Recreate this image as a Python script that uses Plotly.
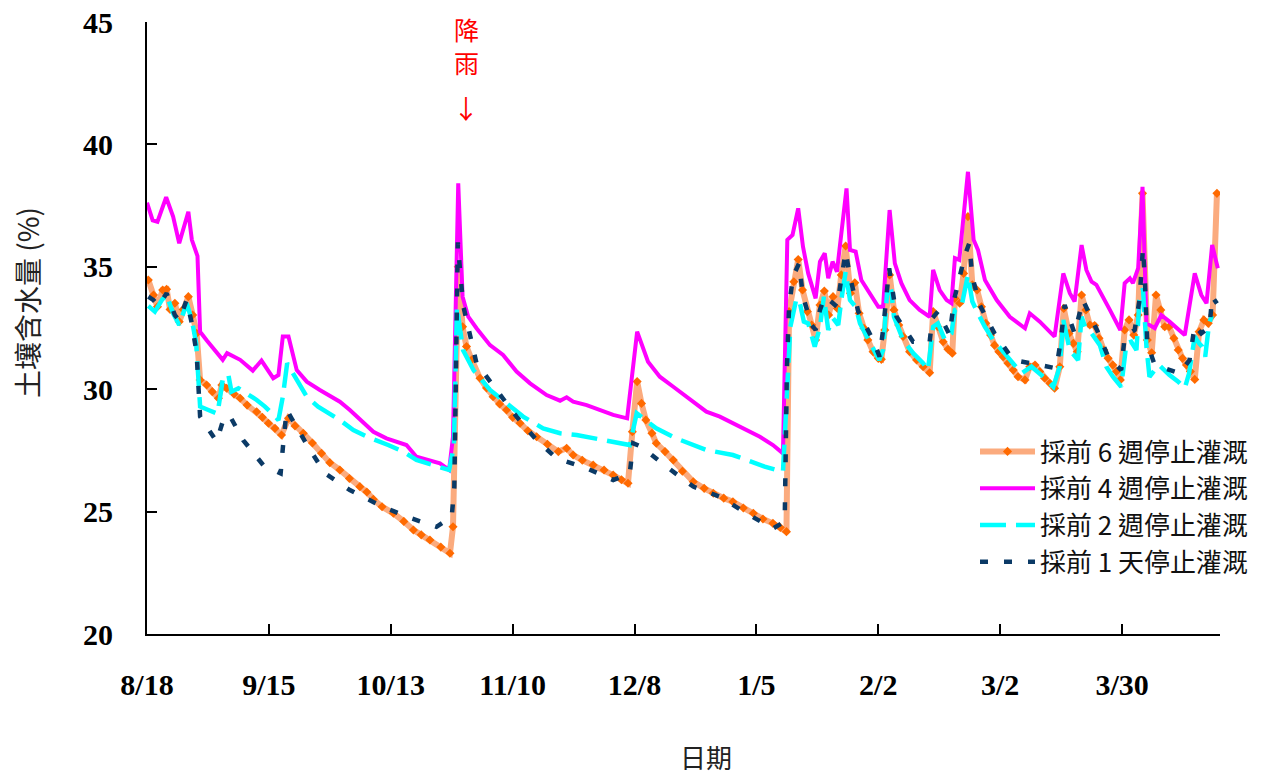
import plotly.graph_objects as go

# x = days since 8/18
tick_days = [0, 28, 56, 84, 112, 140, 168, 196, 224]
tick_labels = ["8/18", "9/15", "10/13", "11/10", "12/8", "1/5", "2/2", "3/2", "3/30"]

names = ["採前 6 週停止灌溉", "採前 4 週停止灌溉", "採前 2 週停止灌溉", "採前 1 天停止灌溉"]

days_6w = [0.3, 1.5, 2.4, 3.6, 4.5, 5.3, 6.4, 7.4, 8.3, 9.5, 10.5, 11.4, 12.2, 13.7, 15, 16.4, 17.2, 18.3, 20, 21.4,
           23, 25.2, 26.5, 27.9, 29.4, 30.9, 32.5, 34, 35.9, 38, 40.1, 42, 44.3, 46.5, 48.9, 50.5, 52, 54, 56.6, 59,
           61.2, 63, 65, 67.5, 69.6, 70.3, 71.5, 72.5, 73.4, 74.6, 76.5, 78, 79.5, 81, 82.6, 84, 85.7, 87.5, 89.5, 92,
           94.5, 96.4, 97.9, 100, 102.5, 105, 107.1, 109, 110.5, 111.5, 112.6, 113.6, 114.6, 116, 117, 119, 120.9, 123,
           125.5, 128, 130.1, 132.5, 134.6, 137, 139.3, 141.5, 143.8, 145.5, 146.9, 147.5, 148.6, 149.6,
           150.6, 151.7, 152.7, 153.6, 154.6, 155.6, 156.6, 157.6, 158.6, 159.5, 160.5, 161.6, 162.6, 163.6, 164.7,
           165.6, 166.8, 168, 168.7, 169.5, 170.6, 171.6, 172.7, 173.7, 175.2, 176.8, 178.3, 179.8, 180.6, 181.7,
           182.9, 184, 185, 185.6, 186.7, 187.6, 188.6, 189.6, 190.7, 191.7, 192.7, 193.8, 194.7, 195.7, 196.7, 197.8,
           199, 200.1, 201.7, 202.8, 204, 205.1, 206.2, 207.4, 208.5, 209.7, 210.6, 211.8, 212.8, 213.7, 214.7, 215.7,
           216.6, 217.7, 218.7, 219.8, 220.8, 221.9, 222.7, 223.6, 224.6, 225.6, 226.7, 227.7, 228.7, 229.8, 230.8,
           231.8, 232.9, 233.8, 234.8, 235.9, 236.9, 237.9, 238.8, 239.7, 240.7, 241.7, 242.8, 243.8, 244.8, 245.8]
vals_6w = [34.46, 33.85, 33.37, 34.05, 34.08, 33.26, 33.51, 32.76, 33.26, 33.78, 33.03, 32.28, 30.38, 30.17, 29.9,
           29.63, 30.17, 30.04, 29.8, 29.63, 29.35, 29.08, 28.85, 28.61, 28.4, 28.13, 28.81, 28.5, 28.2, 27.8, 27.38,
           27.0, 26.7, 26.35, 26.02, 25.8, 25.5, 25.2, 24.93, 24.6, 24.25, 24.05, 23.84, 23.55, 23.3, 24.38, 35.0,
           32.55, 31.74, 31.2, 30.45, 30.05, 29.69, 29.4, 29.15, 28.85, 28.61, 28.3, 28.06, 27.75, 27.45, 27.59, 27.31,
           27.1, 26.9, 26.7, 26.49, 26.3, 26.16, 28.26, 30.31, 29.42, 28.74, 28.2, 27.79, 27.45, 27.11, 26.65, 26.22,
           25.95, 25.75, 25.55, 25.4, 25.15, 24.93, 24.7, 24.52, 24.35, 24.18, 33.17, 34.39, 35.3,
           34.05, 33.17, 32.62, 32.01, 33.44, 34.01, 33.03, 33.78, 33.3, 34.67, 35.85, 33.92, 34.35, 33.1, 32.49,
           32.01, 31.53, 31.26, 31.22, 32.42, 34.67, 33.24, 32.62, 32.15, 31.53, 31.19, 30.92, 30.67, 33.17, 32.55,
           31.94, 31.63, 31.47, 33.71, 33.51, 34.73, 37.05, 34.26, 34.05, 33.37, 32.69, 32.21, 31.8, 31.53, 31.33,
           31.06, 30.78, 30.51, 30.38, 30.92, 30.99, 30.72, 30.45, 30.24, 30.04, 30.92, 33.3, 32.28, 31.87, 31.53,
           33.85, 33.24, 32.62, 32.6, 32.08, 31.6, 31.26, 30.99, 30.72, 30.38, 32.42, 32.83, 32.21, 33.03, 38.0,
           32.01, 31.49, 33.85, 33.24, 32.55, 32.55, 32.08, 31.6, 31.26, 30.99, 30.72, 30.4, 32.35, 32.83, 32.69,
           33.03, 38.0]

days_4w = [0, 1.3, 2.4, 4.4, 6, 7.4, 9.5, 10.3, 11.6, 12.2, 13.7, 17.4, 18.4, 19.8, 21.4, 24.3, 26.3, 29, 30.2, 31.2,
           32.5, 34.4, 36.7, 39.7, 44.3, 46.6, 52, 55, 58.1, 59.6, 61.9, 65, 67.3, 69.4, 70.3, 71.5, 72.5, 73.8, 75.7,
           78.8, 81.8, 84.9, 88, 91.8, 94.9, 96.4, 97.9, 101, 104, 107.1, 110.3, 112.6, 115.1, 117.8, 120.9, 125.5,
           128.5, 131.6, 136.2, 140.8, 143.8, 146.1, 147.1, 148.3, 149.6, 150.7, 151.9, 153.6, 154.6, 155.7, 156.5,
           157.5, 158.5, 160.7, 161.5, 162.8, 164.1, 166, 168, 169.1, 170.6, 171.8, 173.3, 175.2, 177.5, 179.8, 180.6,
           182.1, 183.7, 184.8, 185.6, 186.6, 188.6, 189.9, 190.9, 192.5, 195.2, 198.2, 201.7, 202.8, 205.1, 208.5,
           210.5, 212, 213.1, 214.7, 215.8, 217, 218.1, 221.2, 223.6, 224.6, 225.8, 226.5, 227.7, 228.7, 229.6, 231.5,
           233, 234.9, 238.4, 240.7, 242.2, 243.4, 244.7, 246]
vals_4w = [37.62, 36.9, 36.84, 37.84, 37.05, 35.96, 37.25, 36.1, 35.44, 32.35, 32.0, 31.2, 31.47, 31.36, 31.2, 30.76,
           31.17, 30.45, 30.58, 32.15, 32.15, 30.78, 30.31, 29.97, 29.49, 29.15, 28.26, 27.99, 27.79, 27.72, 27.24,
           27.1, 26.97, 26.7, 28.06, 38.41, 33.78, 32.96, 32.49, 31.8, 31.4, 30.72, 30.24, 29.76, 29.53, 29.67, 29.49,
           29.35, 29.15, 28.95, 28.81, 32.35, 31.12, 30.51, 30.1, 29.49, 29.08, 28.88, 28.47, 28.06, 27.72, 27.38,
           36.1, 36.3, 37.39, 35.82, 34.73, 33.71, 35.21, 35.55, 34.53, 35.21, 34.8, 38.2, 35.69, 35.62, 34.46, 33.92,
           33.37, 33.37, 37.32, 35.14, 34.33, 33.64, 33.24, 32.96, 34.87, 34.05, 33.64, 33.51, 35.35, 35.28, 38.88,
           36.1, 35.69, 34.46, 33.64, 32.96, 32.49, 33.1, 32.76, 32.15, 34.73, 33.92, 33.58, 35.89, 34.87, 34.39,
           34.26, 33.24, 32.42, 34.33, 34.53, 34.33, 34.94, 38.27, 32.7, 32.49, 33.03, 32.76, 32.21, 34.73, 33.85,
           33.51, 35.89, 34.94]

days_2w = [0.3, 1.8, 3.4, 4.5, 6, 7.4, 9.1, 10.3, 11.3, 12.2, 14.1, 16.2, 17.5, 18.7, 19.4, 21, 25.2, 27.1, 30.2, 31.2,
           32.2, 34.4, 36.7, 39.3, 44.3, 47.4, 50.5, 55.4, 58.9, 61.9, 65, 67.5, 69.4, 70.5, 71.2, 72.6, 75, 78.8, 82.6,
           86.4, 91, 94.9, 98.7, 103.3, 107.9, 110.9, 112.5, 114, 117, 121.6, 128.5, 134.6, 141.9, 146.1, 147.8, 149.2,
           150, 150.9, 151.9, 153.4, 154.6, 155.5, 156.5, 157.6, 158.8, 159.5, 160.5, 161.5, 162.8, 163.8, 165.3,
           166.8, 168.2, 169.1, 170, 171, 171.6, 173.7, 176, 178.3, 179.4, 180.6, 181.7, 183.3, 184.8, 185.6, 187.1,
           188.6, 189.6, 190.9, 192.5, 194.4, 196.7, 199, 200.9, 202, 203.2, 205.9, 208.2, 209.7, 210.5, 212, 213.9,
           214.7, 215.5, 217, 218.9, 220.4, 221.9, 223.8, 225, 226.1, 227.3, 228, 228.8, 229.6, 230.3, 232.5, 234.9,
           236.9, 238.4, 239.4, 240.7, 241.7, 242.4, 243.1, 244, 244.6]
vals_2w = [33.4, 33.17, 33.64, 33.85, 33.1, 32.62, 33.51, 32.83, 31.88, 29.29, 29.15, 29.0, 30.51, 30.58, 29.9, 30.04,
           29.56, 29.29, 28.74, 29.69, 31.06, 30.38, 29.69, 29.29, 28.74, 28.33, 28.06, 27.72, 27.45, 27.11, 26.95,
           26.84, 26.7, 27.65, 33.37, 31.6, 30.78, 29.97, 29.42, 28.88, 28.4, 28.2, 28.13, 27.99, 27.85, 27.72, 29.02,
           28.81, 28.4, 27.99, 27.52, 27.31, 26.84, 26.63, 32.55, 33.71, 33.51, 32.76, 32.69, 31.74, 32.55, 33.78,
           32.42, 32.9, 32.62, 33.64, 34.8, 33.64, 33.37, 32.69, 32.15, 31.6, 31.19, 31.6, 33.92, 33.98, 32.96, 32.01,
           31.47, 31.06, 30.78, 32.55, 32.69, 32.01, 32.28, 33.24, 33.37, 34.67, 33.58, 33.1, 32.55, 32.01, 31.53,
           31.06, 30.65, 30.78, 30.92, 30.51, 30.1, 30.92, 32.83, 31.6, 31.19, 32.96, 32.55, 32.28, 31.8, 30.92, 30.51,
           30.1, 31.87, 31.94, 31.6, 33.64, 34.12, 31.74, 30.51, 30.99, 30.58, 30.31, 30.04, 30.65, 32.15, 31.87,
           31.74, 31.33, 32.69, 33.0]

days_1d = [0.3, 1.5, 2.6, 4.5, 6.4, 7.4, 9.1, 10.3, 11.4, 12.2, 16, 17.5, 18.9, 22.1, 26.7, 30.7, 31.3, 32.1, 33.2, 37,
           40.9, 46.6, 53, 59.6, 66.5, 70, 70.6, 71.4, 72.1, 72.7, 75.7, 80.3, 84.9, 89.5, 94.1, 101, 107.1, 110.9,
           111.7, 113.6, 119.3, 125.5, 131.6, 137.7, 143.8, 146.5, 147.0, 147.5, 148.4, 149.8, 150.7, 152.7, 153.6,
           154.6, 155.7, 157.6, 158.5, 160.5, 161.5, 163.4, 166.8, 168.3, 169.1, 170.5, 172.2, 176, 179.8, 180.4,
           181.7, 184.4, 185.4, 187.9, 188.9, 189.6, 191.3, 194.7, 199, 205.1, 208.9, 210, 210.8, 213.1, 214.3, 215,
           218.4, 220.8, 223.8, 224.6, 226.9, 228, 228.8, 229.2, 229.8, 231.5, 237.2, 239.5, 240.7, 242.2, 244.1,
           244.7, 245.8]
vals_1d = [33.78, 33.64, 33.4, 33.92, 33.03, 32.8, 33.64, 32.69, 31.47, 28.88, 27.86, 28.74, 28.95, 27.92, 26.9, 26.56,
           27.79, 29.15, 28.81, 27.65, 26.56, 25.88, 25.3, 24.79, 24.38, 24.79, 26.0, 36.0, 34.46, 33.37, 31.06, 29.97,
           28.88, 27.92, 27.18, 26.77, 26.29, 26.56, 27.79, 27.65, 26.84, 26.02, 25.61, 24.93, 24.31, 24.59, 30.78,
           33.37, 34.6, 35.14, 33.78, 32.62, 32.42, 33.24, 33.78, 33.51, 33.37, 35.62, 34.6, 33.17, 32.01, 31.33,
           32.42, 34.94, 32.96, 31.94, 31.94, 32.9, 33.17, 32.21, 33.64, 35.48, 35.96, 34.6, 33.44, 32.28, 31.19,
           30.99, 30.85, 32.08, 33.44, 32.28, 33.24, 33.64, 32.35, 31.33, 30.78, 32.15, 32.42, 33.64, 35.76, 34.6,
           31.87, 30.99, 30.65, 31.19, 32.62, 32.28, 32.55, 33.78, 33.5]

serif = "Liberation Serif, Times New Roman, Noto Sans CJK TC"
cjk = "Noto Sans CJK TC, Liberation Serif"

# figure geometry (page body margin removed via post_script, so no offset)
OFF = 0
W, H = 1263, 774
L, T, R, B = 147, 22, 43, 140
PW, PH = W - L - R, H - T - B
BOTTOM = T + PH


def px_x(px):
    return (px - OFF - L) / PW


def px_y(py):
    return (BOTTOM - (py - OFF)) / PH


fig = go.Figure()
fig.add_trace(go.Scatter(x=days_6w, y=vals_6w, name=names[0], mode="lines+markers",
                         line=dict(color="#FBAB7E", width=6),
                         marker=dict(symbol="diamond", size=7, color="#FF6A00")))
fig.add_trace(go.Scatter(x=days_4w, y=vals_4w, name=names[1], mode="lines",
                         line=dict(color="#FF00FF", width=4)))
fig.add_trace(go.Scatter(x=days_2w, y=vals_2w, name=names[2], mode="lines",
                         line=dict(color="#00FFFF", width=4.5, dash="26px,10px")))
fig.add_trace(go.Scatter(x=days_1d, y=vals_1d, name=names[3], mode="lines",
                         line=dict(color="#0B3A66", width=4.5, dash="8px,16px")))

axis_common = dict(showgrid=False, zeroline=False, showline=True, linecolor="black", linewidth=2,
                   ticks="inside", ticklen=10, tickwidth=2, tickcolor="black", automargin=False,
                   ticklabeloverflow="allow",
                   tickfont=dict(family=serif, size=30, color="black", weight="bold"))

fig.update_layout(
    width=W, height=H,
    margin=dict(l=L, r=R, t=T, b=B, autoexpand=False),
    paper_bgcolor="white", plot_bgcolor="white",
    showlegend=True,
    legend=dict(x=px_x(975), y=px_y(428), xanchor="left", yanchor="top",
                font=dict(family=cjk, size=26, color="#111"),
                bgcolor="rgba(0,0,0,0)", tracegroupgap=0, itemwidth=55),
    xaxis=dict(range=[0, 246.5], tickvals=tick_days, ticktext=tick_labels,
               ticklabelstandoff=23, **axis_common),
    yaxis=dict(range=[20, 45], tickvals=[20, 25, 30, 35, 40, 45],
               ticklabelstandoff=26, **axis_common),
)

# axis titles
fig.add_annotation(x=px_x(27), xref="paper", y=px_y(303), yref="paper", text="土壤含水量 (%)",
                   textangle=-90, showarrow=False, xanchor="center", yanchor="middle",
                   font=dict(family=cjk, size=28, color="#222"))
fig.add_annotation(x=px_x(706), xref="paper", y=px_y(756), yref="paper", text="日期",
                   showarrow=False, xanchor="center", yanchor="middle",
                   font=dict(family=cjk, size=26, color="#222"))

# rain annotation
fig.add_annotation(x=73.3, xref="x", y=px_y(46), yref="paper", text="降<br>雨", showarrow=False,
                   xanchor="center", yanchor="middle", font=dict(family=cjk, size=25, color="red"))
fig.add_annotation(x=73.3, xref="x", y=px_y(108), yref="paper", text="↓", showarrow=False,
                   xanchor="center", yanchor="middle", font=dict(family=cjk, size=26, color="red"))

fig.write_html("out.html", config={"displayModeBar": False},
               post_script="document.body.style.margin='0';document.body.style.overflow='hidden';")
